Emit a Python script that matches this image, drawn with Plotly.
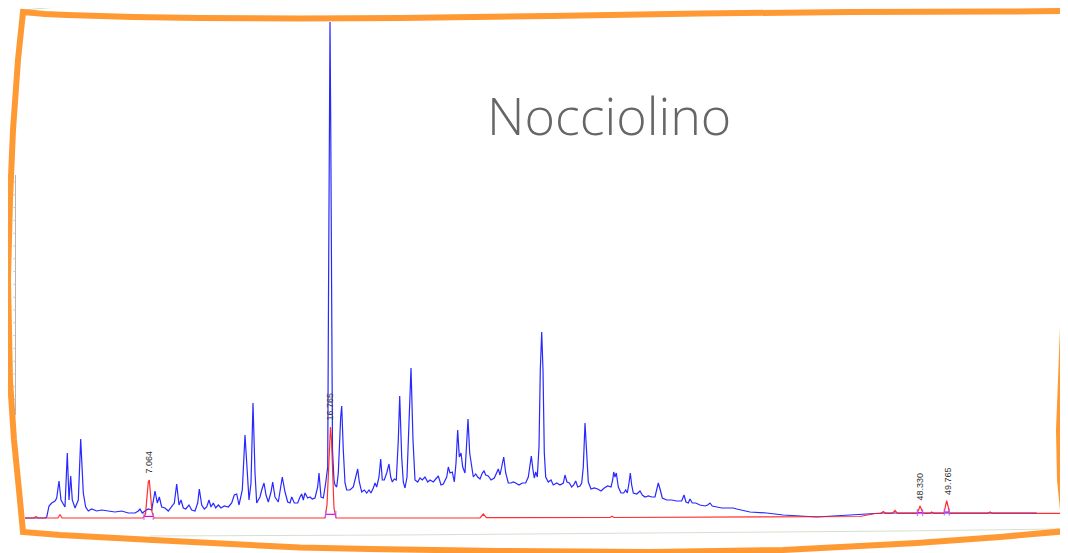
import numpy as np
import plotly.graph_objects as go

# ---------------- DATA ----------------
# Total ion chromatogram (blue): retention time (min) and abundance (arbitrary units)
rt_tic = [0.494, 1.562, 1.653, 1.776, 1.920, 2.096, 2.187, 2.310, 2.417, 2.539, 2.630, 2.753, 2.844, 2.935,
          3.020, 3.165, 3.341, 3.469, 3.608, 3.736, 3.875, 4.057, 4.324, 4.591, 4.943, 5.301, 5.659, 6.012,
          6.370, 6.546, 6.637, 6.760, 6.904, 7.080, 7.262, 7.438, 7.561, 7.668, 7.796, 7.972, 8.149, 8.330,
          8.469, 8.597, 8.720, 8.827, 8.950, 9.078, 9.254, 9.398, 9.575, 9.719, 9.805, 9.933, 10.072, 10.200,
          10.323, 10.430, 10.552, 10.681, 10.820, 10.964, 11.140, 11.354, 11.535, 11.674, 11.803, 11.925,
          12.102, 12.246, 12.369, 12.460, 12.566, 12.673, 12.780, 12.871, 12.956, 13.047, 13.138, 13.261,
          13.368, 13.491, 13.635, 13.726, 13.849, 14.025, 14.153, 14.238, 14.383, 14.527, 14.650, 14.741,
          14.880, 15.061, 15.184, 15.275, 15.360, 15.451, 15.595, 15.718, 15.841, 15.985, 16.129, 16.199,
          16.306, 16.429, 16.557, 16.664, 16.706, 16.749, 16.787, 16.824, 16.867, 16.920, 17.000, 17.054,
          17.145, 17.230, 17.358, 17.412, 17.497, 17.588, 17.679, 17.855, 18.031, 18.160, 18.266, 18.352,
          18.480, 18.619, 18.747, 18.870, 18.977, 19.100, 19.191, 19.281, 19.404, 19.495, 19.581, 19.687,
          19.816, 19.938, 20.029, 20.115, 20.222, 20.328, 20.435, 20.510, 20.617, 20.702, 20.793, 20.900,
          21.007, 21.114, 21.220, 21.327, 21.471, 21.594, 21.717, 21.862, 22.006, 22.129, 22.305, 22.487,
          22.572, 22.716, 22.839, 23.021, 23.106, 23.197, 23.320, 23.427, 23.518, 23.608, 23.694, 23.785,
          23.876, 23.998, 24.089, 24.159, 24.249, 24.319, 24.442, 24.570, 24.677, 24.800, 24.922, 25.013,
          25.104, 25.243, 25.387, 25.564, 25.692, 25.777, 25.868, 25.959, 26.066, 26.173, 26.311, 26.456,
          26.578, 26.707, 26.883, 27.059, 27.241, 27.380, 27.471, 27.540, 27.631, 27.700, 27.775, 27.861,
          27.951, 28.021, 28.096, 28.165, 28.235, 28.309, 28.448, 28.592, 28.715, 28.897, 29.073, 29.250,
          29.340, 29.447, 29.570, 29.698, 29.805, 29.912, 30.019, 30.142, 30.232, 30.318, 30.409, 30.500,
          30.585, 30.729, 30.905, 31.087, 31.263, 31.440, 31.621, 31.798, 31.888, 31.942, 32.011, 32.081,
          32.188, 32.332, 32.476, 32.583, 32.668, 32.759, 32.829, 32.903, 32.989, 33.171, 33.347, 33.470,
          33.614, 33.790, 33.972, 34.148, 34.239, 34.324, 34.431, 34.538, 34.773, 35.040, 35.307, 35.574,
          35.697, 35.804, 35.927, 36.018, 36.141, 36.322, 36.552, 36.819, 36.963, 37.086, 37.209, 37.444,
          37.711, 37.978, 38.155, 38.331, 38.513, 39.223, 40.115, 41.002, 41.894, 42.786, 43.673, 44.565,
          45.457, 46.344, 48.128, 49.907, 51.686, 53.470, 54.538]
tic = [0, 0, 1, 12, 15, 17, 20, 37, 18, 13, 11, 65, 18, 42,
       18, 10, 18, 79, 25, 11, 7, 9, 7, 8, 7, 6, 7, 5,
       5, 7, 9, 5, 7, 9, 8, 27, 15, 21, 11, 10, 7, 11,
       15, 34, 13, 18, 10, 9, 13, 8, 7, 15, 29, 13, 9, 11,
       18, 11, 15, 10, 13, 10, 12, 11, 15, 23, 24, 13,
       28, 83, 45, 18, 35, 115, 45, 15, 18, 21, 28, 35,
       23, 16, 26, 36, 21, 16, 31, 41, 26, 16, 15, 21,
       15, 15, 21, 24, 18, 25, 20, 21, 19, 20, 31, 45,
       21, 20, 35, 51, 218, 398, 496, 398, 218, 68, 38, 33,
       31, 45, 101, 112, 68, 35, 28, 28, 31, 40, 49, 36,
       26, 28, 25, 28, 25, 30, 35, 31, 41, 59, 38, 38,
       45, 54, 41, 36, 39, 38, 78, 122, 61, 36, 30, 41,
       88, 150, 78, 38, 36, 40, 38, 41, 36, 38, 36, 40,
       42, 33, 34, 41, 51, 45, 46, 36, 55, 88, 61, 65,
       51, 45, 78, 99, 65, 55, 41, 44, 41, 39, 45, 47,
       43, 42, 38, 40, 46, 49, 43, 50, 61, 45, 35, 35,
       36, 35, 33, 35, 35, 41, 51, 62, 48, 40, 46, 41,
       71, 148, 186, 148, 65, 41, 36, 38, 33, 35, 33, 35,
       43, 36, 35, 31, 33, 37, 31, 32, 35, 51, 95, 63,
       36, 29, 30, 29, 27, 30, 32, 31, 38, 46, 41, 45,
       31, 25, 25, 28, 25, 35, 45, 33, 25, 24, 27, 23,
       21, 22, 21, 21, 28, 35, 28, 20, 18, 18, 17, 17,
       23, 16, 15, 19, 15, 15, 13, 12, 13, 15, 12, 11,
       10, 10, 10, 10, 9, 6, 5, 3, 2, 1, 2, 3,
       4, 5, 5, 5, 5, 5, 5]

# Extracted ion chromatogram (red)
rt_eic = [0.494, 0.974, 1.081, 1.188, 2.256, 2.363, 2.470, 6.797, 6.931, 7.011, 7.080, 7.134, 7.198,
          7.278, 7.385, 16.520, 16.626, 16.706, 16.760, 16.813, 16.867, 16.920, 17.000, 17.107, 24.800,
          24.976, 25.147, 31.744, 31.851, 31.958, 41.894, 45.099, 45.901, 46.221, 46.344, 46.461, 46.835,
          46.969, 47.102, 48.144, 48.251, 48.304, 48.374, 48.465, 48.839, 48.929, 49.026, 49.586, 49.666,
          49.731, 49.800, 49.880, 51.937, 52.044, 52.151, 56.050]
eic = [0, 0, 1.5, 0, 0, 3.5, 0, 0, 4, 18, 36, 38, 26,
       6, 0, 0, 13, 48, 78, 91, 78, 43, 10, 0, 0,
       4, 0.3, 0.5, 1.7, 0.5, 1, 1.5, 4.5, 4.7, 6.5, 4.7, 4.7,
       7.5, 4.7, 4.7, 9, 12, 9, 4.7, 4.7, 6, 4.7, 4.7, 12,
       17.3, 12, 4.7, 4.7, 6, 4.7, 4.7]

# Labelled peaks (retention times) and their integration start / end
peak_rt = [7.064, 16.765, 48.330, 49.765]
peak_labels = ["7.064", "16.765", "48.330", "49.765"]
peak_start = [6.85, 16.55, 48.16, 49.60]
peak_end = [7.34, 17.10, 48.45, 49.87]

title_text = "Nocciolino"

# ---------------- FIGURE ----------------
# The page body has an 8 px margin, so the figure is made 8 px smaller and
# decorations are placed in window pixel coordinates shifted by that margin.
OFF = 8
W, H = 1068 - OFF, 553 - OFF
rt_eic_a = np.array(rt_eic)
eic_a = np.array(eic)


def pxx(sx):
    return (sx - OFF) / W


def pxy(sy):
    return 1 - (sy - OFF) / H


fig = go.Figure()
fig.add_trace(go.Scatter(x=rt_tic, y=tic, mode="lines",
                         line=dict(color="rgb(40,40,255)", width=1.2), hoverinfo="skip"))
fig.add_trace(go.Scatter(x=rt_eic, y=eic, mode="lines",
                         line=dict(color="rgb(255,25,25)", width=1.2), opacity=0.9, hoverinfo="skip"))

# integration baselines (magenta, flat at the peak-start level) and start/end ticks
bx, by, tx, ty_ = [], [], [], []
for s, e in zip(peak_start, peak_end):
    base = float(np.interp(s, rt_eic_a, eic_a))
    bx += [s, e, None]
    by += [base, base, None]
    tx += [s, e]
    ty_ += [base, base]
fig.add_trace(go.Scatter(x=bx, y=by, mode="lines", line=dict(color="rgb(230,0,230)", width=1.2),
                         hoverinfo="skip"))
fig.add_trace(go.Scatter(x=tx, y=ty_, mode="markers",
                         marker=dict(symbol="line-ns-open", size=5, line=dict(color="#333", width=1)),
                         hoverinfo="skip"))

for rt, lab in zip(peak_rt, peak_labels):
    m = np.abs(rt_eic_a - rt) < 0.15
    top = float(eic_a[m].max())
    fig.add_annotation(x=rt, y=top, text=lab, textangle=-90, showarrow=False,
                       xanchor="center", yanchor="bottom", yshift=4,
                       font=dict(family="Liberation Sans, Arial", size=9, color="#333333"))

fig.add_annotation(x=pxx(609), y=pxy(114), xref="paper", yref="paper", text=title_text,
                   showarrow=False, xanchor="center", yanchor="middle",
                   font=dict(family="Open Sans", size=52, color="#666666", weight=300))


def px_path(points, close=False):
    s = ""
    for i, (sx, sy) in enumerate(points):
        s += ("M" if i == 0 else "L") + f"{pxx(sx):.5f},{pxy(sy):.5f} "
    return s + ("Z" if close else "")


# faint background decorations
fig.add_shape(type="path", xref="paper", yref="paper",
              path=px_path([(23, 10), (80, 5), (175, 0)]),
              line=dict(color="#cfdcc8", width=1))
fig.add_shape(type="path", xref="paper", yref="paper",
              path=px_path([(150, 536), (400, 535), (650, 533), (900, 531), (1060, 529)]),
              line=dict(color="#d6e0cf", width=1))
fig.add_shape(type="line", xref="paper", yref="paper", x0=pxx(15.5), x1=pxx(15.5),
              y0=pxy(175), y1=pxy(415), line=dict(color="#b5b5b5", width=1))
for k in range(19):
    tyk = pxy(182 + 12.8 * k)
    fig.add_shape(type="line", xref="paper", yref="paper", x0=pxx(13.5), x1=pxx(15.5),
                  y0=tyk, y1=tyk, line=dict(color="#c0c0c0", width=1))

# hand-drawn orange frame
border = [(23, 12), (45, 14), (67, 15), (100, 16), (133, 17), (200, 18), (300, 18.5), (400, 18),
          (550, 16), (700, 13.5), (850, 12), (1000, 11.5), (1074, 11), (1076, 150), (1068, 238),
          (1064, 300), (1061, 380), (1059, 430), (1060, 480), (1063, 510), (1067, 531),
          (1000, 537), (917, 543), (783, 550), (650, 552), (500, 551), (370, 549), (300, 547.5),
          (153, 540), (60, 535), (23, 532), (19, 490), (14, 440), (10, 380), (8, 280), (10, 200),
          (13, 130), (18, 60), (23, 12)]
fig.add_shape(type="path", xref="paper", yref="paper", path=px_path(border, close=True),
              line=dict(color="#FF9933", width=6))

# axis ranges chosen so that window pixel -> retention time / abundance
t0 = -0.842 + OFF * 0.05342
t1 = -0.842 + 1068 * 0.05342
fig.update_layout(
    width=W, height=H, margin=dict(l=0, r=0, t=0, b=0),
    paper_bgcolor="white", plot_bgcolor="white", showlegend=False,
    xaxis=dict(range=[t0, t1], visible=False, fixedrange=True),
    yaxis=dict(range=[518 - 553, 518 - OFF], visible=False, fixedrange=True),
)

fig.write_html("out.html")
